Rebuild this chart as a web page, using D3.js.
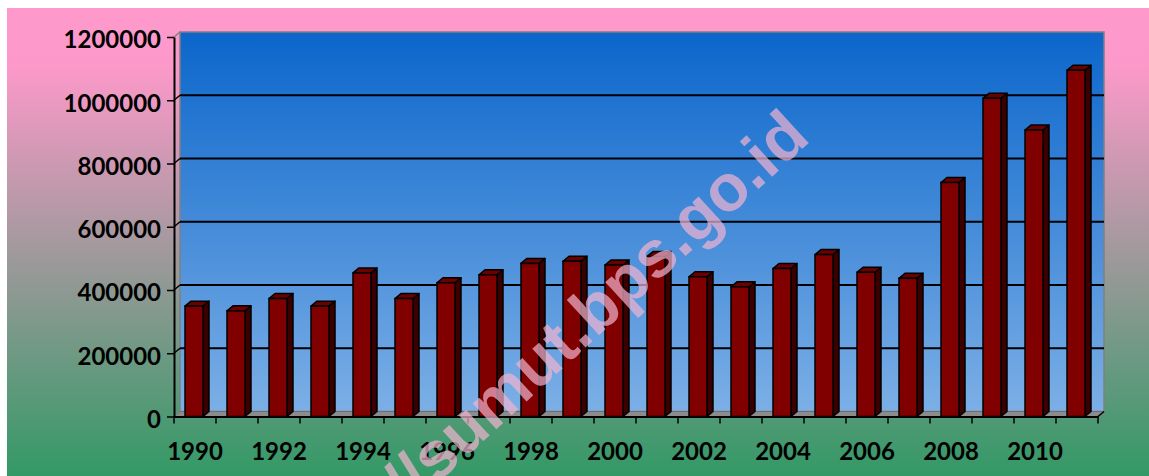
<!DOCTYPE html>
<html>
<head>
<meta charset="utf-8">
<script src="https://cdn.jsdelivr.net/npm/d3@7/dist/d3.min.js"></script>
<style>
	body { margin: 0; background: #fff; }
	svg text { font-family: Lato, "Open Sans", sans-serif; font-weight: bold; }
	svg text.wm { font-family: "Liberation Sans", Arial, sans-serif; }
</style>
</head>
<body>
<div id="chart-area"></div>
<script>
// data
var years = [1990, 1991, 1992, 1993, 1994, 1995, 1996, 1997, 1998, 1999, 2000,
	2001, 2002, 2003, 2004, 2005, 2006, 2007, 2008, 2009, 2010, 2011];
var values = [349000, 334000, 373000, 349000, 454000, 373000, 423000, 448000, 484000, 491000, 479000,
	506000, 442000, 410000, 468000, 512000, 456000, 437000, 740000, 1006000, 906000, 1095000];
var yTicks = [0, 200000, 400000, 600000, 800000, 1000000, 1200000];
var watermark = "http://sumut.bps.go.id";

var width = 1149;
var height = 476;
var depth = { dx: 6, dy: -5 };
var barW = 18;

var svg = d3.select("#chart-area")
	.append("svg")
	.attr("width", width)
	.attr("height", height);

var defs = svg.append("defs");
var bg = defs.append("linearGradient").attr("id", "bg").attr("x1", 0).attr("y1", 0).attr("x2", 0).attr("y2", 1);
bg.append("stop").attr("offset", "0%").attr("stop-color", "#ff99cc");
bg.append("stop").attr("offset", "12%").attr("stop-color", "#fd99ca");
bg.append("stop").attr("offset", "100%").attr("stop-color", "#339966");

var wall = defs.append("linearGradient").attr("id", "wall").attr("x1", 0).attr("y1", 0).attr("x2", 0).attr("y2", 1);
wall.append("stop").attr("offset", "0%").attr("stop-color", "#0b66cb");
wall.append("stop").attr("offset", "100%").attr("stop-color", "#7cafe6");

// background
svg.append("rect")
	.attr("x", 7).attr("y", 8)
	.attr("width", width - 7).attr("height", height - 8)
	.attr("fill", "url(#bg)");

var x = d3.scaleBand()
	.domain(years)
	.range([174, 1098]);
var y = d3.scaleLinear()
	.domain([0, 1200000])
	.range([416.5, 37]);

var x0 = x.range()[0], x1 = x.range()[1];
var yTop = y(1200000), yBot = y(0);

// back wall
svg.append("rect")
	.attr("x", x0 + depth.dx).attr("y", yTop + depth.dy)
	.attr("width", x1 - x0).attr("height", yBot - yTop)
	.attr("fill", "url(#wall)")
	.attr("stroke", "#808080")
	.attr("stroke-width", 1.5);

// floor
svg.append("path")
	.attr("d", "M" + x0 + "," + yBot + "L" + x1 + "," + yBot +
		"L" + (x1 + depth.dx) + "," + (yBot + depth.dy) +
		"L" + (x0 + depth.dx) + "," + (yBot + depth.dy) + "Z")
	.attr("fill", "#8c8c8c")
	.attr("stroke", "#6e6e6e")
	.attr("stroke-width", 1);

// gridlines on the wall
svg.selectAll(".grid")
	.data(yTicks.filter(d => d > 0 && d < 1200000))
	.enter()
	.append("line")
	.attr("class", "grid")
	.attr("x1", x0 + depth.dx).attr("x2", x1 + depth.dx)
	.attr("y1", d => y(d) + depth.dy).attr("y2", d => y(d) + depth.dy)
	.attr("stroke", "#000")
	.attr("stroke-width", 2);

// little diagonals from the axis to the wall
svg.selectAll(".diag")
	.data(yTicks)
	.enter()
	.append("line")
	.attr("class", "diag")
	.attr("x1", x0).attr("x2", x0 + depth.dx)
	.attr("y1", d => y(d)).attr("y2", d => y(d) + depth.dy)
	.attr("stroke", d => d === 0 || d === 1200000 ? "#808080" : "#000")
	.attr("stroke-width", 1.5);

// bars
var bars = svg.append("g").selectAll("g")
	.data(years.map((d, i) => ({ year: d, value: values[i] })))
	.enter()
	.append("g");

var bx = d => x(d.year) + 11;

bars.append("path")
	.attr("d", d => {
		var l = bx(d) + barW, t = y(d.value), b = y(0);
		return "M" + l + "," + t + "L" + (l + depth.dx) + "," + (t + depth.dy) +
			"L" + (l + depth.dx) + "," + (b + depth.dy) + "L" + l + "," + b + "Z";
	})
	.attr("fill", "#3a0000")
	.attr("stroke", "#000")
	.attr("stroke-width", 1.5)
	.attr("stroke-linejoin", "round");

bars.append("path")
	.attr("d", d => {
		var l = bx(d), t = y(d.value);
		return "M" + l + "," + t + "L" + (l + barW) + "," + t +
			"L" + (l + barW + depth.dx) + "," + (t + depth.dy) +
			"L" + (l + depth.dx) + "," + (t + depth.dy) + "Z";
	})
	.attr("fill", "#6a0000")
	.attr("stroke", "#000")
	.attr("stroke-width", 1.5)
	.attr("stroke-linejoin", "round");

bars.append("rect")
	.attr("x", bx)
	.attr("y", d => y(d.value))
	.attr("width", barW)
	.attr("height", d => y(0) - y(d.value))
	.attr("fill", "#800000")
	.attr("stroke", "#000")
	.attr("stroke-width", 1.5);

// Y axis
var yAxisCall = d3.axisLeft(y)
	.tickValues(yTicks)
	.tickSize(7)
	.tickSizeOuter(0)
	.tickPadding(6)
	.tickFormat(d3.format("d"));
var yAxisGroup = svg.append("g")
	.attr("transform", "translate(" + x0 + ",0)")
	.call(yAxisCall);
yAxisGroup.select(".domain").attr("stroke", "#000").attr("stroke-width", 2);
yAxisGroup.selectAll(".tick line").attr("stroke", "#000").attr("stroke-width", 1.5);
yAxisGroup.selectAll("text")
	.attr("font-size", "24px")
	.attr("fill", "#000")
	.attr("dy", "0.45em");

// X axis
var xAxisCall = d3.axisBottom(x)
	.tickSize(0)
	.tickPadding(26)
	.tickFormat(d => (d % 2 === 0 ? d : ""));
var xAxisGroup = svg.append("g")
	.attr("transform", "translate(0," + yBot + ")")
	.call(xAxisCall);
xAxisGroup.select(".domain").attr("stroke", "#000").attr("stroke-width", 2);
xAxisGroup.selectAll("text")
	.attr("font-size", "24px")
	.attr("fill", "#000");

// ticks between categories
svg.selectAll(".xtick")
	.data(d3.range(years.length + 1))
	.enter()
	.append("line")
	.attr("class", "xtick")
	.attr("x1", i => x0 + i * x.step()).attr("x2", i => x0 + i * x.step())
	.attr("y1", yBot).attr("y2", yBot + 7)
	.attr("stroke", "#000")
	.attr("stroke-width", 1.5);

svg.append("line")
	.attr("x1", x1).attr("y1", yBot)
	.attr("x2", x1 + depth.dx).attr("y2", yBot + depth.dy)
	.attr("stroke", "#000")
	.attr("stroke-width", 1.5);

// watermark
svg.append("text")
	.attr("class", "wm")
	.attr("transform", "translate(812,140) rotate(-42.5)")
	.attr("text-anchor", "end")
	.attr("font-size", "66px")
	.attr("fill", "rgb(242,180,208)")
	.attr("fill-opacity", 0.7)
	.text(watermark);
</script>
</body>
</html>
